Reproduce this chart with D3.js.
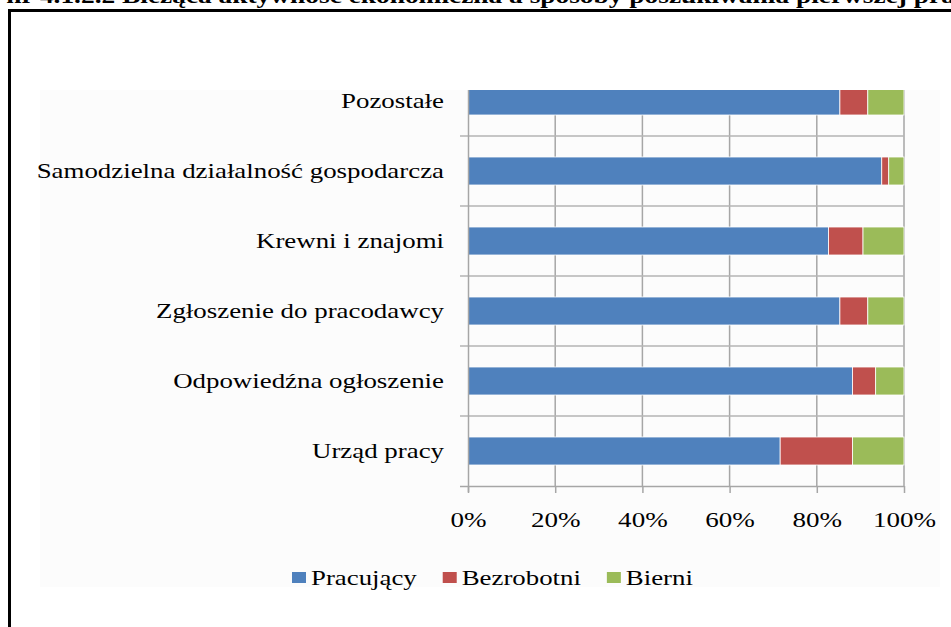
<!DOCTYPE html>
<html>
<head>
<meta charset="utf-8">
<script src="https://cdn.jsdelivr.net/npm/d3@7"></script>
<style>
  body { margin: 0; background: #fff; }
  svg { display: block; }
</style>
</head>
<body>
<svg></svg>
<script>
const categories = ["Pozostałe", "Samodzielna działalność gospodarcza", "Krewni i znajomi", "Zgłoszenie do pracodawcy", "Odpowiedźna ogłoszenie", "Urząd pracy"];
const seriesNames = ["Pracujący", "Bezrobotni", "Bierni"];
const pracujacy = [85.3, 94.9, 82.7, 85.3, 88.2, 71.6];
const bezrobotni = [6.4, 1.6, 7.9, 6.4, 5.3, 16.6];
const bierni = [8.3, 3.5, 9.4, 8.3, 6.5, 11.8];
const xTicks = [0, 20, 40, 60, 80, 100];
const colors = ["#4f81bd", "#c0504d", "#9bbb59"];

const svgWidth = 951;
const svgHeight = 627;
const serif = "'Liberation Serif', 'Times New Roman', serif";

const svg = d3.select("svg")
  .attr("width", svgWidth)
  .attr("height", svgHeight);

// caption cut off at the very top of the picture
const caption = "Wykres nr 4.1.2.2 Bieżąca aktywność ekonomiczna a sposoby poszukiwania pierwszej pracy";
const capScale = 1.37;
const cap = svg.append("text")
  .attr("font-family", serif)
  .attr("font-weight", "bold")
  .attr("font-size", 20)
  .text(caption);
const prefixW = cap.node().getSubStringLength(0, caption.indexOf("4.1")) * capScale;
cap.attr("transform", `translate(${40 - prefixW},3) scale(${capScale},1)`);

// frame
svg.append("path")
  .attr("d", "M9.5,627V10.5H951")
  .attr("fill", "none")
  .attr("stroke", "#000")
  .attr("stroke-width", 3);

// chart area background
svg.append("rect")
  .attr("x", 40).attr("y", 90)
  .attr("width", 900).attr("height", 497)
  .attr("fill", "#fcfcfc");

svg.append("clipPath").attr("id", "plotclip")
  .append("rect")
  .attr("x", 440).attr("y", 90)
  .attr("width", 500).attr("height", 420);

const data = categories.map((c, i) => ({
  cat: c,
  values: [pracujacy[i], bezrobotni[i], bierni[i]]
}));

const stack = d3.stack()
  .keys([0, 1, 2])
  .value((d, k) => d.values[k]);
const series = stack(data);

const x = d3.scaleLinear().domain([0, 100]).range([468, 904]);
const y = d3.scaleBand()
  .domain(categories)
  .range([66, 486])
  .paddingInner(0.6)
  .paddingOuter(0.3);

const plot = svg.append("g").attr("clip-path", "url(#plotclip)");
const gridColor = "#a6a6a6";

// vertical gridlines
plot.append("g")
  .selectAll("line")
  .data(xTicks.slice(1))
  .join("line")
  .attr("x1", d => x(d)).attr("x2", d => x(d))
  .attr("y1", 66).attr("y2", 486)
  .attr("stroke", gridColor)
  .attr("stroke-width", 1.5);

// horizontal category separators
const bounds = d3.range(categories.length).map(i => y.step() * i + y.range()[0]);
plot.append("g")
  .selectAll("line")
  .data(bounds)
  .join("line")
  .attr("x1", 460).attr("x2", x(100))
  .attr("y1", d => d).attr("y2", d => d)
  .attr("stroke", "#b4b4b4")
  .attr("stroke-width", 1.5);

// bars
plot.append("g")
  .selectAll("g")
  .data(series)
  .join("g")
  .attr("fill", (d, i) => colors[i])
  .selectAll("rect")
  .data(d => d)
  .join("rect")
  .attr("x", d => x(d[0]))
  .attr("width", d => x(d[1]) - x(d[0]))
  .attr("y", d => y(d.data.cat))
  .attr("height", y.bandwidth())
  .attr("stroke", "#fff")
  .attr("stroke-width", 0.8);

// x axis
const xAxis = svg.append("g")
  .attr("transform", "translate(0,486)")
  .call(d3.axisBottom(x).tickValues(xTicks).tickSize(7).tickSizeOuter(0).tickFormat(d => d + "%"));
xAxis.select(".domain")
  .attr("d", "M460,0.5H" + x(100))
  .attr("stroke", gridColor)
  .attr("stroke-width", 1.5);
xAxis.selectAll(".tick line").attr("stroke", gridColor).attr("stroke-width", 1.5);
xAxis.selectAll(".tick text")
  .attr("y", 0).attr("dy", 0)
  .attr("transform", "translate(0,41) scale(1.23,1)")
  .attr("font-family", serif)
  .attr("font-size", 22)
  .attr("fill", "#000");

// y axis line
svg.append("line")
  .attr("x1", 468.5).attr("x2", 468.5)
  .attr("y1", 90).attr("y2", 492)
  .attr("stroke", gridColor)
  .attr("stroke-width", 1.5);

// category labels
const yAxis = svg.append("g")
  .attr("transform", "translate(468,0)")
  .call(d3.axisLeft(y).tickSize(0));
yAxis.select(".domain").remove();
yAxis.selectAll(".tick text")
  .attr("x", 0).attr("dy", "0.32em")
  .attr("transform", "translate(-24,0) scale(1.28,1)")
  .attr("font-family", serif)
  .attr("font-size", 21)
  .attr("fill", "#000");

// legend
const legend = svg.append("g").attr("transform", "translate(292,577)");
let lx = 0;
seriesNames.forEach((name, i) => {
  legend.append("rect")
    .attr("x", lx).attr("y", -5)
    .attr("width", 14).attr("height", 11)
    .attr("fill", colors[i]);
  const t = legend.append("text")
    .attr("transform", `translate(${lx + 19},8) scale(1.22,1)`)
    .attr("font-family", serif)
    .attr("font-size", 22)
    .text(name);
  lx += 19 + t.node().getComputedTextLength() * 1.22 + 26;
});
</script>
</body>
</html>
